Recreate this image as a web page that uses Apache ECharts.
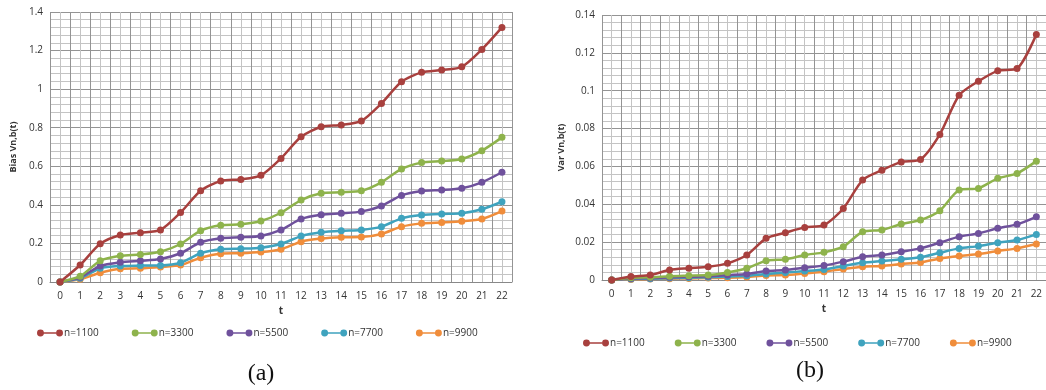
<!DOCTYPE html>
<html>
<head>
<meta charset="utf-8">
<script src="https://cdn.jsdelivr.net/npm/echarts@6/dist/echarts.min.js"></script>
<style>html,body{margin:0;padding:0;background:#fff;}#c{width:1046px;height:390px;}</style>
</head>
<body>
<div id="c"></div>
<script>
const tLabels = ['0','1','2','3','4','5','6','7','8','9','10','11','12','13','14','15','16','17','18','19','20','21','22'];
const seriesNames = ['n=1100','n=3300','n=5500','n=7700','n=9900'];
const colors = ['#A8403E','#8EB34C','#6F519C','#3FA3BE','#F08D3B'];

// (a) Bias
const bias1100 = [0,0.088,0.198,0.244,0.256,0.27,0.36,0.473,0.524,0.532,0.553,0.641,0.753,0.805,0.814,0.835,0.926,1.038,1.087,1.099,1.116,1.206,1.32];
const bias3300 = [0,0.03,0.11,0.136,0.143,0.157,0.197,0.266,0.294,0.299,0.316,0.359,0.425,0.46,0.465,0.473,0.517,0.586,0.619,0.627,0.638,0.681,0.75];
const bias5500 = [0,0.024,0.083,0.102,0.11,0.119,0.149,0.206,0.227,0.232,0.239,0.27,0.327,0.349,0.356,0.365,0.394,0.449,0.472,0.477,0.486,0.517,0.569];
const bias7700 = [0,0.019,0.071,0.083,0.085,0.086,0.1,0.149,0.17,0.173,0.178,0.197,0.238,0.258,0.266,0.27,0.287,0.33,0.347,0.353,0.356,0.377,0.416];
const bias9900 = [0,0.014,0.048,0.069,0.071,0.078,0.088,0.126,0.147,0.149,0.155,0.17,0.209,0.225,0.232,0.233,0.249,0.287,0.304,0.309,0.315,0.327,0.368];

// (b) Var
const var1100 = [0,0.0018,0.0026,0.0053,0.0062,0.007,0.0088,0.0132,0.022,0.025,0.0278,0.029,0.0378,0.0528,0.058,0.0624,0.0637,0.0769,0.0976,0.105,0.1105,0.1117,0.1297];
const var3300 = [0,0.0012,0.0014,0.002,0.0023,0.0026,0.004,0.0062,0.0102,0.0109,0.0132,0.0146,0.0176,0.0255,0.0264,0.0296,0.0317,0.0366,0.0475,0.0484,0.0537,0.0563,0.0628];
const var5500 = [0,0.0008,0.001,0.0015,0.0017,0.002,0.0026,0.0032,0.0047,0.0053,0.0065,0.0076,0.0097,0.0123,0.0132,0.0149,0.0167,0.0197,0.0229,0.0246,0.0273,0.0294,0.0334];
const var7700 = [0,0.0005,0.0007,0.001,0.0012,0.0014,0.0018,0.0023,0.0032,0.0039,0.0047,0.0056,0.0074,0.0091,0.01,0.0109,0.012,0.0144,0.0167,0.0179,0.0197,0.0211,0.0241];
const var9900 = [0,0.0003,0.0005,0.0007,0.0008,0.001,0.0012,0.0016,0.0024,0.0026,0.0035,0.0044,0.0058,0.007,0.0074,0.0084,0.0093,0.0114,0.0127,0.0137,0.0153,0.0167,0.019];

const biasData = [bias1100,bias3300,bias5500,bias7700,bias9900];
const varData = [var1100,var3300,var5500,var7700,var9900];

const FONT = 'Open Sans';
const majorColor = '#949494';
const minorColor = '#c4c4c4';

function catAxis(gridIndex){
  return {
    type:'category', gridIndex, data:tLabels, boundaryGap:true,
    name:'t', nameLocation:'middle', nameGap:21,
    nameTextStyle:{fontFamily:FONT,fontSize:10,fontWeight:'bold',color:'#333'},
    axisLine:{show:true,lineStyle:{color:'#888',width:1}},
    axisTick:{show:false},
    axisLabel:{fontFamily:FONT,fontSize:10,color:'#333',margin:9,interval:0},
    splitLine:{show:false}, z:3
  };
}
function gridXAxis(gridIndex){
  return {
    type:'value', gridIndex, min:0, max:23, interval:1,
    axisLine:{show:false}, axisTick:{show:false}, axisLabel:{show:false},
    splitLine:{show:true,lineStyle:{color:majorColor,width:1}},
    minorTick:{show:false,splitNumber:2},
    minorSplitLine:{show:true,lineStyle:{color:minorColor,width:1}}
  };
}
function valAxis(gridIndex,max,interval,name,nameGap){
  return {
    type:'value', gridIndex, min:0, max, interval,
    name, nameLocation:'middle', nameGap, nameRotate:90,
    nameTextStyle:{fontFamily:FONT,fontSize:9,fontWeight:'bold',color:'#333'},
    axisLine:{show:false}, axisTick:{show:false},
    axisLabel:{fontFamily:FONT,fontSize:10,color:'#333',margin:7},
    splitLine:{show:true,lineStyle:{color:majorColor,width:1}},
    minorTick:{show:false,splitNumber:5},
    minorSplitLine:{show:true,lineStyle:{color:minorColor,width:1}}
  };
}

const series = [];
seriesNames.forEach((nm,i)=>{
  series.push({name:nm,type:'line',xAxisIndex:0,yAxisIndex:0,data:biasData[i],smooth:0.25,
    symbol:'circle',symbolSize:7,lineStyle:{width:2.5,color:colors[i]},itemStyle:{color:colors[i]},z:10-i});
});
seriesNames.forEach((nm,i)=>{
  series.push({name:nm,type:'line',xAxisIndex:2,yAxisIndex:1,data:varData[i],smooth:0.25,
    symbol:'circle',symbolSize:7,lineStyle:{width:2.5,color:colors[i]},itemStyle:{color:colors[i]},z:10-i});
});

const legendIcon = 'path://M0,4A4,4,0,1,1,8,4A4,4,0,1,1,0,4ZM6,3.2L22,3.2L22,4.8L6,4.8ZM22,4A4,4,0,1,1,30,4A4,4,0,1,1,22,4Z';

const chart = echarts.init(document.getElementById('c'),null,{renderer:'canvas'});
chart.setOption({
  animation:false,
  backgroundColor:'#fff',
  grid:[
    {left:50,top:12,width:462,height:270,containLabel:false},
    {left:602,top:15,width:447,height:265,containLabel:false}
  ],
  xAxis:[catAxis(0),gridXAxis(0),catAxis(1),gridXAxis(1)],
  yAxis:[valAxis(0,1.4,0.2,'Bias Vn,b(t)',32),valAxis(1,0.14,0.02,'Var Vn,b(t)',36)],
  legend:[
    {data:seriesNames,left:32,top:323,icon:legendIcon,itemWidth:26,itemHeight:8,itemGap:33,
      textStyle:{fontFamily:FONT,fontSize:10,color:'#333',padding:[0,0,0,-4]},selectedMode:false},
    {data:seriesNames,left:578,top:333,icon:legendIcon,itemWidth:26,itemHeight:8,itemGap:30,
      textStyle:{fontFamily:FONT,fontSize:10,color:'#333',padding:[0,0,0,-4]},selectedMode:false}
  ],
  graphic:[
    {type:'text',x:261,y:374,style:{text:'(a)',font:'24px "Liberation Serif"',fill:'#111',align:'center',verticalAlign:'middle'}},
    {type:'text',x:810,y:371,style:{text:'(b)',font:'24px "Liberation Serif"',fill:'#111',align:'center',verticalAlign:'middle'}}
  ],
  series
});
</script>
</body>
</html>
